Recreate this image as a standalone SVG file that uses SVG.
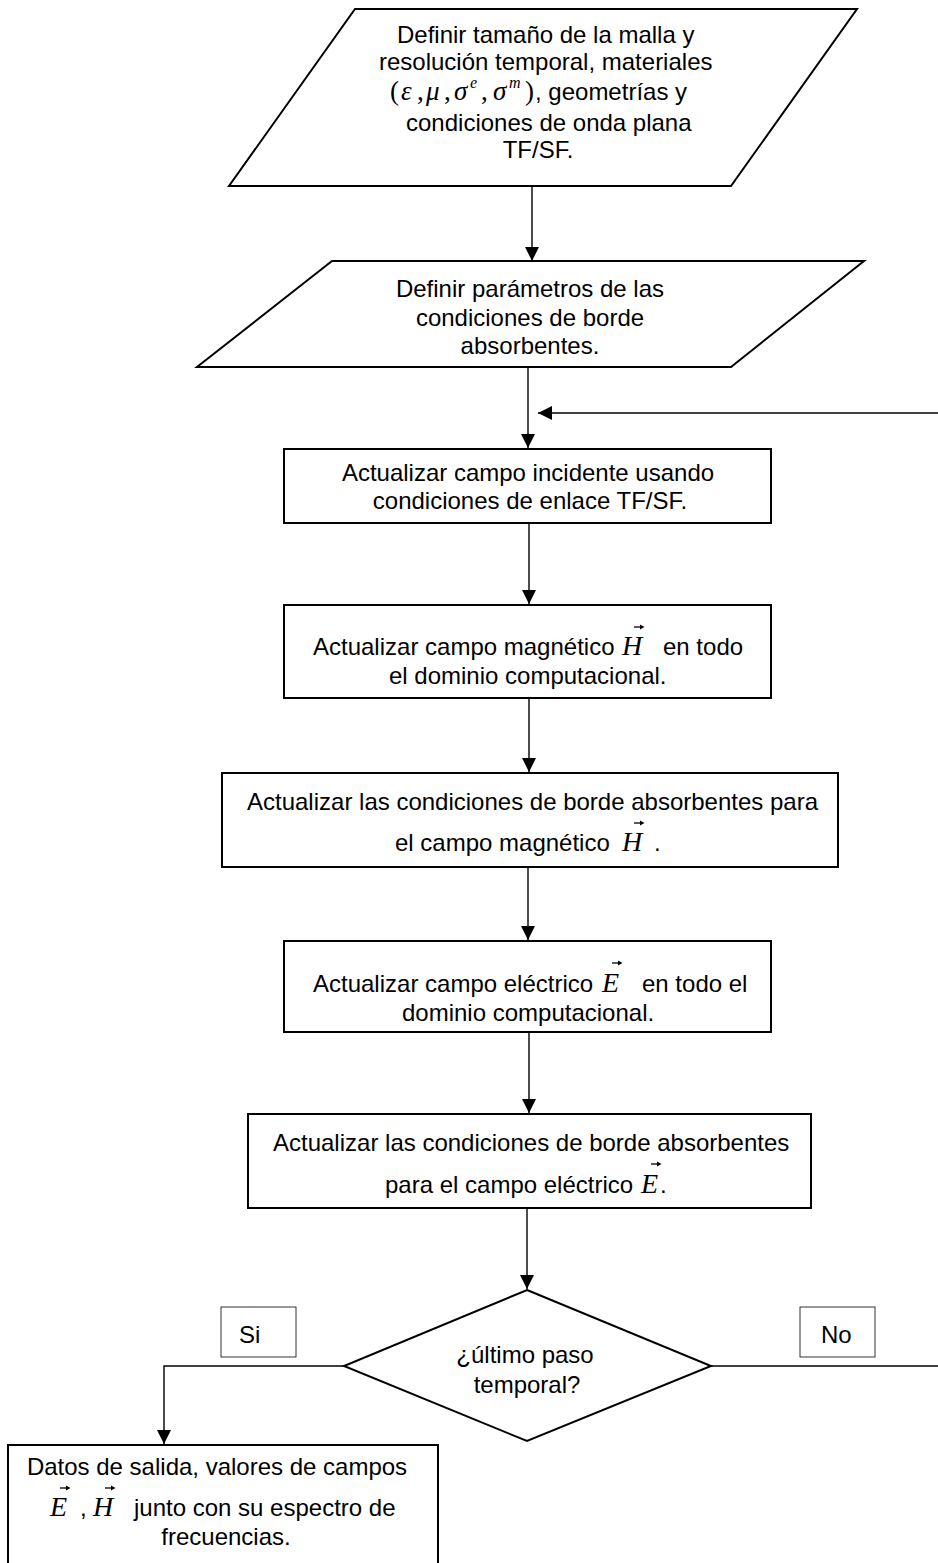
<svg xmlns="http://www.w3.org/2000/svg" xmlns:xlink="http://www.w3.org/1999/xlink" width="938" height="1563" viewBox="0 0 938 1563">
<style>
.shape{fill:#fff;stroke:#000;stroke-width:2}
.lbl{fill:#fff;stroke:#333;stroke-width:1}
.t{font-family:"Liberation Sans",Arial,sans-serif;font-size:24px;fill:#000}
.c{text-anchor:middle}
.m{font-family:"Liberation Serif","Times New Roman",serif;font-style:italic;font-size:28px;fill:#000}
.mg{font-family:"Liberation Serif","Times New Roman",serif;font-style:italic;font-size:27px;fill:#000}
.mr{font-family:"Liberation Serif","Times New Roman",serif;font-size:27px;fill:#000}
.sup{font-family:"Liberation Serif","Times New Roman",serif;font-style:italic;font-size:16px;fill:#000}
.conn{fill:none;stroke:#000;stroke-width:1.4}
</style>
<defs>
<marker id="ah" markerUnits="userSpaceOnUse" markerWidth="14" markerHeight="15" refX="14" refY="7" orient="auto">
<path d="M0,0 L14,7 L0,14 z" fill="#000"/>
</marker>
<g id="vec"><line x1="0" y1="0" x2="8" y2="0" stroke="#000" stroke-width="1.3"/><path d="M6,-2.6 L10.5,0 L6,2.6 z" fill="#000"/></g>
</defs>

<g id="connectors">
<path class="conn" d="M532,186 V261" marker-end="url(#ah)"/>
<path class="conn" d="M528,367 V448" marker-end="url(#ah)"/>
<path class="conn" d="M938,413 H538" marker-end="url(#ah)"/>
<path class="conn" d="M529,523 V604" marker-end="url(#ah)"/>
<path class="conn" d="M529,698 V772" marker-end="url(#ah)"/>
<path class="conn" d="M528,867 V940" marker-end="url(#ah)"/>
<path class="conn" d="M529,1032 V1113" marker-end="url(#ah)"/>
<path class="conn" d="M527,1208 V1289" marker-end="url(#ah)"/>
<path class="conn" d="M344,1366 H164 V1444" marker-end="url(#ah)"/>
<path class="conn" d="M711,1366 H938"/>
</g>

<g id="n1">
<polygon class="shape" points="355,9 857,9 731,186 229,186"/>
<text class="t" x="397" y="43">Definir tamaño de la malla y</text>
<text class="t" x="379" y="70">resolución temporal, materiales</text>
<text class="mr" x="390" y="100">(</text>
<text class="mg" x="401" y="100">ε</text>
<text class="mr" x="417" y="100">,</text>
<text class="mg" x="426" y="100">μ</text>
<text class="mr" x="444" y="100">,</text>
<text class="mg" x="454" y="100">σ</text>
<text class="sup" x="470" y="88">e</text>
<text class="mr" x="481" y="100">,</text>
<text class="mg" x="493" y="100">σ</text>
<text class="sup" x="509" y="88">m</text>
<text class="mr" x="525" y="100">)</text>
<text class="t" x="535" y="100">, geometrías y</text>
<text class="t" x="406" y="131">condiciones de onda plana</text>
<text class="t c" x="538" y="158">TF/SF.</text>
</g>

<g id="n2">
<polygon class="shape" points="332,261 864,261 731,367 197,367"/>
<text class="t c" x="530" y="297">Definir parámetros de las</text>
<text class="t c" x="530" y="326">condiciones de borde</text>
<text class="t c" x="530" y="354">absorbentes.</text>
</g>

<g id="n3">
<rect class="shape" x="284" y="449" width="487" height="74"/>
<text class="t c" x="528" y="481">Actualizar campo incidente usando</text>
<text class="t c" x="530" y="509">condiciones de enlace TF/SF.</text>
</g>

<g id="n4">
<rect class="shape" x="284" y="605" width="487" height="93"/>
<text class="t" x="313" y="655">Actualizar campo magnético</text>
<text class="m" x="622" y="655">H</text>
<use xlink:href="#vec" href="#vec" x="634" y="627"/>
<text class="t" x="663" y="655">en todo</text>
<text class="t" x="389" y="684">el dominio computacional.</text>
</g>

<g id="n5">
<rect class="shape" x="222" y="773" width="616" height="94"/>
<text class="t" x="247" y="810">Actualizar las condiciones de borde absorbentes para</text>
<text class="t" x="395" y="851">el campo magnético</text>
<text class="m" x="622" y="851">H</text>
<use xlink:href="#vec" href="#vec" x="634" y="823"/>
<text class="t" x="654" y="851">.</text>
</g>

<g id="n6">
<rect class="shape" x="284" y="941" width="487" height="91"/>
<text class="t" x="313" y="992">Actualizar campo eléctrico</text>
<text class="m" x="602" y="992">E</text>
<use xlink:href="#vec" href="#vec" x="612" y="963"/>
<text class="t" x="642" y="992">en todo el</text>
<text class="t" x="402" y="1021">dominio computacional.</text>
</g>

<g id="n7">
<rect class="shape" x="248" y="1114" width="563" height="94"/>
<text class="t" x="273" y="1151">Actualizar las condiciones de borde absorbentes</text>
<text class="t" x="385" y="1193">para el campo eléctrico</text>
<text class="m" x="641" y="1193">E</text>
<use xlink:href="#vec" href="#vec" x="651" y="1164"/>
<text class="t" x="660" y="1193">.</text>
</g>

<g id="n8">
<polygon class="shape" points="527,1290 711,1366 527,1441 344,1366"/>
<text class="t c" x="525" y="1363">¿último paso</text>
<text class="t c" x="527" y="1393">temporal?</text>
</g>

<g id="si">
<rect class="lbl" x="221" y="1307" width="75" height="50"/>
<text class="t" x="239" y="1343">Si</text>
</g>

<g id="no">
<rect class="lbl" x="800" y="1307" width="75" height="50"/>
<text class="t" x="821" y="1343">No</text>
</g>

<g id="n9">
<rect class="shape" x="8" y="1445" width="430" height="130"/>
<text class="t c" x="217" y="1475">Datos de salida, valores de campos</text>
<text class="m" x="50" y="1516">E</text>
<use xlink:href="#vec" href="#vec" x="60" y="1488"/>
<text class="t" x="80" y="1516">,</text>
<text class="m" x="93" y="1516">H</text>
<use xlink:href="#vec" href="#vec" x="105" y="1488"/>
<text class="t" x="134" y="1516">junto con su espectro de</text>
<text class="t c" x="226" y="1545">frecuencias.</text>
</g>
</svg>
